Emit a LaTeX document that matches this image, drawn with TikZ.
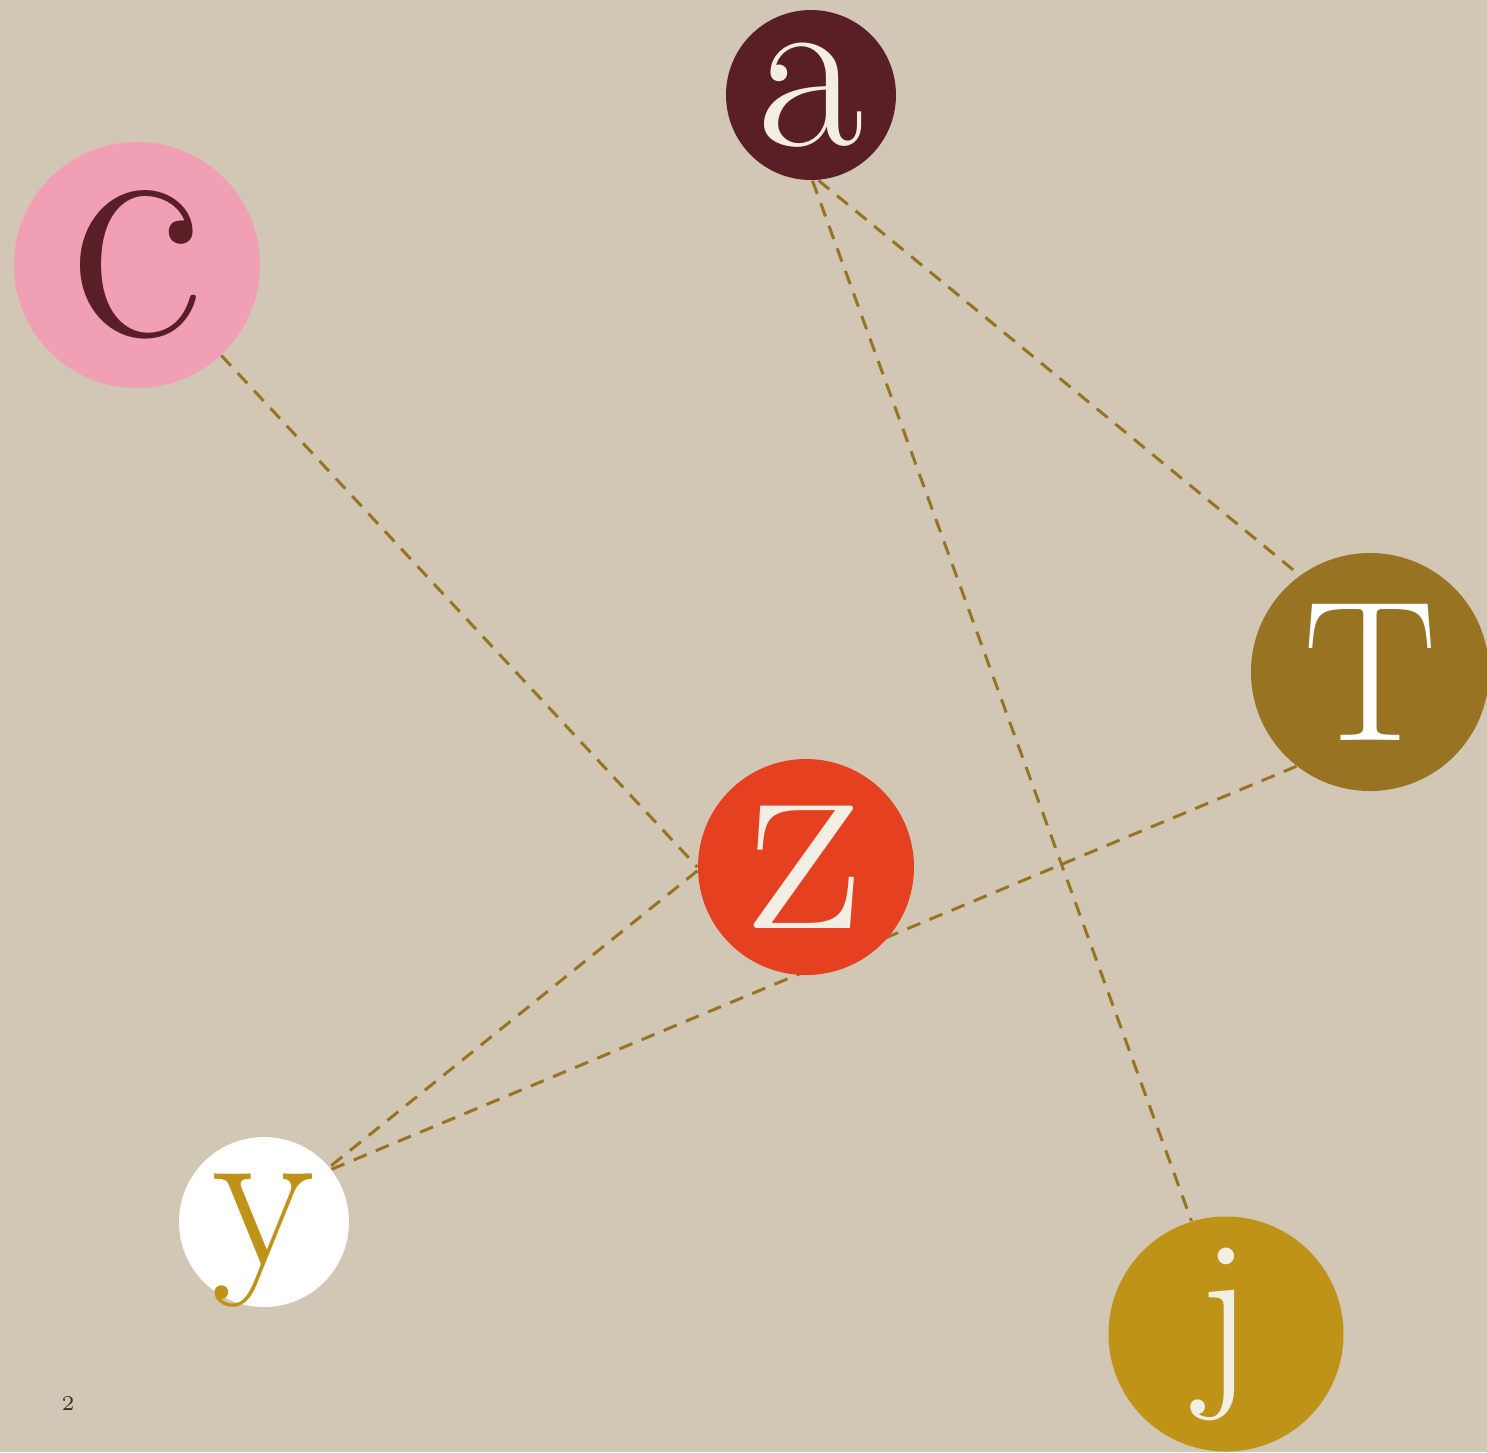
\documentclass[tikz,border=0pt]{standalone}
\usepackage{fontspec}
\usepackage{xcolor}
\usepackage{tikz}
\definecolor{bgTan}{RGB}{210,198,180}
\definecolor{letterCream}{RGB}{242,238,228}
\definecolor{maroon}{RGB}{90,31,38}
\definecolor{rosePink}{RGB}{240,159,180}
\definecolor{oliveBrown}{RGB}{151,115,34}
\definecolor{redOrange}{RGB}{229,64,31}
\definecolor{goldJ}{RGB}{191,147,24}
\definecolor{pageInk}{RGB}{46,58,48}
\pgfdeclarelayer{back}
\pgfsetlayers{back,main}

\begin{document}
\begin{tikzpicture}[
    x=0.1mm, y=-0.1mm,
    letter/.style={circle, draw=none, inner sep=0pt, text=letterCream},
    link/.style={draw=oliveBrown, line width=0.85pt, dash pattern=on 1.4mm off 1mm}
]
    \useasboundingbox (0,0) rectangle (1487,1452);
    \node[letter, minimum size=17mm, fill=maroon, font=\fontsize{66}{66}\selectfont] (a) at (811,95) {a};
    \node[letter, minimum size=24.6mm, fill=rosePink, text=maroon, font=\fontsize{94}{94}\selectfont] (c) at (137,265) {c};
    \node[letter, minimum size=23.8mm, fill=oliveBrown, text=white, font=\fontsize{57}{57}\selectfont] (T) at (1370,672) {T};
    \node[letter, minimum size=21.6mm, fill=redOrange, font=\fontsize{81}{81}\selectfont] (z) at (806,867) {z};
    \node[letter, minimum size=17mm, fill=white, text=goldJ, text height=23.9pt, text depth=0pt, font=\fontsize{60}{60}\selectfont] (y) at (264,1222) {y};
    \node[letter, minimum size=23.5mm, fill=goldJ, font=\fontsize{58}{58}\selectfont] (j) at (1226,1334) {j};
    \node[text=pageInk, font=\fontsize{6}{6}\selectfont] (page) at (68,1403) {2};

    \begin{pgfonlayer}{back}
    \fill[bgTan] (0,0) rectangle (1487,1452);
    \draw[link] (a.271) -- (j.107);
    \draw[link] (a.275) -- (T.126);
    \draw[link] (c.-47) -- (z.180);
    \draw[link] (z.182) -- (y.40);
    \draw[link] (y.38) -- (T.232);
    \end{pgfonlayer}
\end{tikzpicture}
\end{document}
